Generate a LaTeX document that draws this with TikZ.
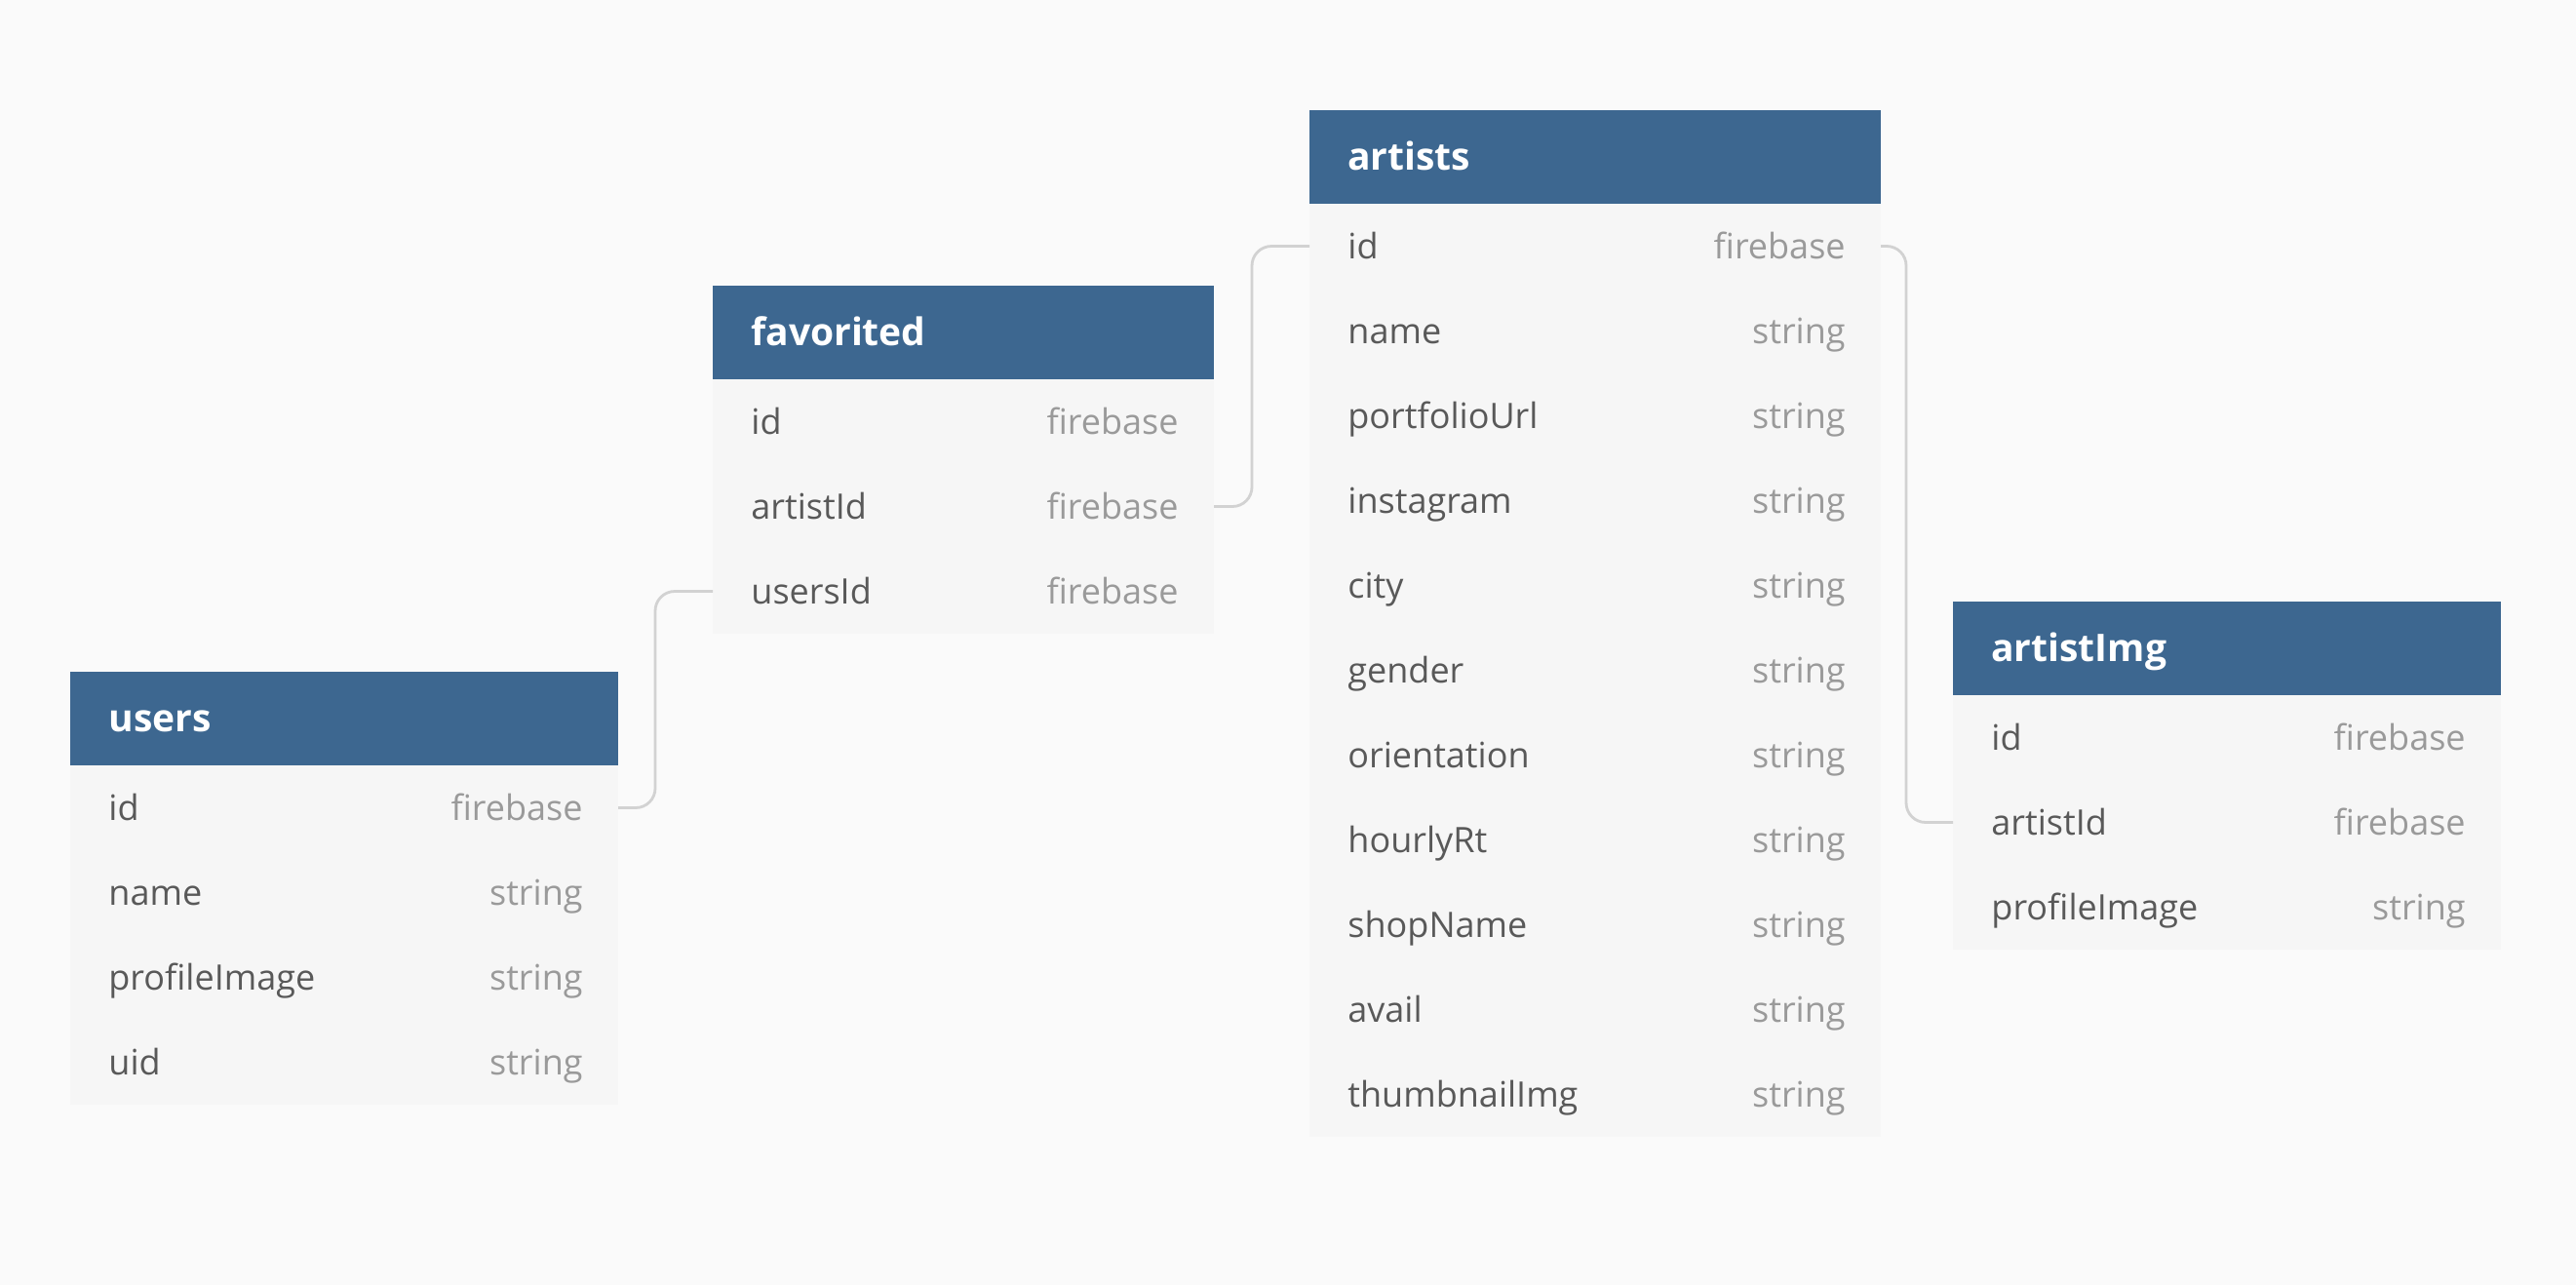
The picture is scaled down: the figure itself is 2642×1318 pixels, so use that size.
\documentclass[tikz,border=0pt]{standalone}
\usepackage{fontspec}
\setmainfont{Open Sans}
\definecolor{bgc}{HTML}{FAFAFA}
\definecolor{hdrblue}{HTML}{3D6790}
\definecolor{rowfill}{HTML}{F6F6F6}
\definecolor{fieldc}{HTML}{595959}
\definecolor{typec}{HTML}{9A9A9A}
\definecolor{connc}{HTML}{D2D2D2}
\tikzset{
  hdr/.style={fill=hdrblue, draw=none, minimum height=48pt, anchor=north west, inner sep=0pt, outer sep=0pt},
  rowbox/.style={fill=rowfill, draw=none, minimum height=43.5pt, anchor=north west, inner sep=0pt, outer sep=0pt},
  hdrtext/.style={anchor=mid west, inner sep=0pt, text=white, font=\fontsize{19.5}{22}\selectfont\bfseries},
  fieldtext/.style={anchor=mid west, inner sep=0pt, text=fieldc, font=\fontsize{18}{21}\selectfont},
  typetext/.style={anchor=mid east, inner sep=0pt, text=typec, font=\fontsize{18}{21}\selectfont},
  conn/.style={draw=connc, line width=1.4pt, rounded corners=10pt}
}
\newcommand\tblhead[5]{%
  \node[hdr, minimum width=#4] (#1) at (#2,#3) {};
  \node[hdrtext] (#1-t) at ([xshift=19.5pt,yshift=-4pt]#1.west) {#5};
}
\newcommand\tblrow[6]{%
  \node[rowbox, minimum width=#4] (#1) at (#2,#3) {};
  \node[fieldtext] (#1-f) at ([xshift=19.5pt,yshift=-4pt]#1.west) {#5};
  \node[typetext] (#1-y) at ([xshift=-18pt,yshift=-4pt]#1.east) {#6};
}
\begin{document}
\begin{tikzpicture}[x=0.5pt,y=-0.5pt]
\fill[bgc] (0,0) rectangle (2642,1318);
\useasboundingbox (0,0) rectangle (2642,1318);

% users
\tblhead{uh}{72}{689}{281pt}{users}
\tblrow{u1}{72}{785}{281pt}{id}{firebase}
\tblrow{u2}{72}{872}{281pt}{name}{string}
\tblrow{u3}{72}{959}{281pt}{profileImage}{string}
\tblrow{u4}{72}{1046}{281pt}{uid}{string}

% favorited
\tblhead{fh}{731}{293}{257pt}{favorited}
\tblrow{f1}{731}{389}{257pt}{id}{firebase}
\tblrow{f2}{731}{476}{257pt}{artistId}{firebase}
\tblrow{f3}{731}{563}{257pt}{usersId}{firebase}

% artists
\tblhead{ah}{1343}{113}{293pt}{artists}
\tblrow{a1}{1343}{209}{293pt}{id}{firebase}
\tblrow{a2}{1343}{296}{293pt}{name}{string}
\tblrow{a3}{1343}{383}{293pt}{portfolioUrl}{string}
\tblrow{a4}{1343}{470}{293pt}{instagram}{string}
\tblrow{a5}{1343}{557}{293pt}{city}{string}
\tblrow{a6}{1343}{644}{293pt}{gender}{string}
\tblrow{a7}{1343}{731}{293pt}{orientation}{string}
\tblrow{a8}{1343}{818}{293pt}{hourlyRt}{string}
\tblrow{a9}{1343}{905}{293pt}{shopName}{string}
\tblrow{a10}{1343}{992}{293pt}{avail}{string}
\tblrow{a11}{1343}{1079}{293pt}{thumbnailImg}{string}

% artistImg
\tblhead{ih}{2003}{617}{281pt}{artistImg}
\tblrow{i1}{2003}{713}{281pt}{id}{firebase}
\tblrow{i2}{2003}{800}{281pt}{artistId}{firebase}
\tblrow{i3}{2003}{887}{281pt}{profileImage}{string}

% connectors
\coordinate (c1) at (672,700);
\coordinate (c2) at (1284,400);
\coordinate (c3) at (1955,500);
\draw[conn] (u1.east) -| (c1) |- (f3.west);
\draw[conn] (f2.east) -| (c2) |- (a1.west);
\draw[conn] (a1.east) -| (c3) |- (i2.west);
\end{tikzpicture}
\end{document}
